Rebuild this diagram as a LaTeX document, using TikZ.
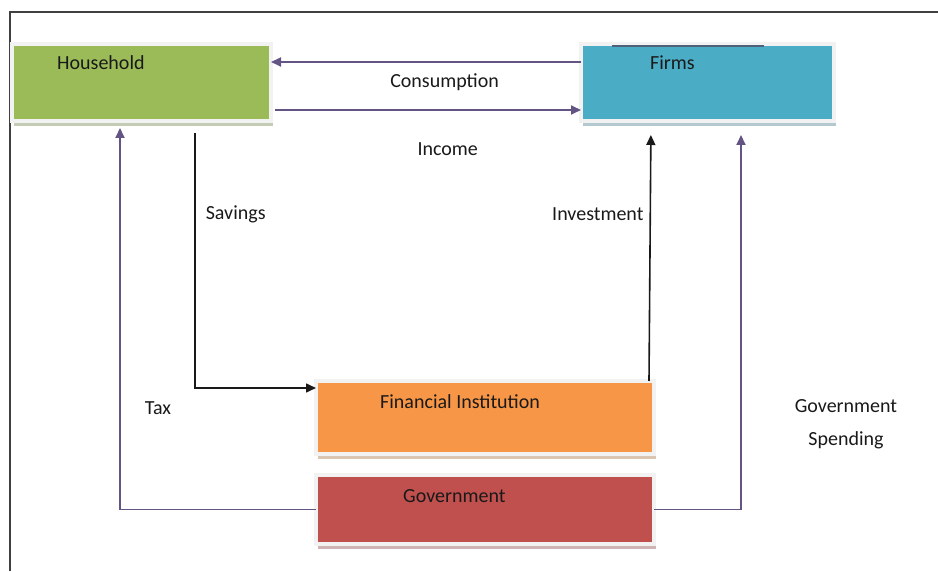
\documentclass[tikz,border=0pt]{standalone}
\usepackage{fontspec}
\setmainfont{Carlito}
\usetikzlibrary{arrows.meta,shadows}

\definecolor{hhgreen}{RGB}{155,187,89}
\definecolor{firmblue}{RGB}{75,172,198}
\definecolor{finorange}{RGB}{247,150,70}
\definecolor{govred}{RGB}{192,80,77}
\definecolor{flowpurple}{RGB}{100,84,132}
\definecolor{boxframe}{RGB}{242,242,242}
\definecolor{slate}{RGB}{80,98,122}

\tikzset{
  block/.style={rectangle, fill=#1, draw=boxframe, line width=4pt,
    inner sep=0pt, outer sep=0pt,
    drop shadow={shadow xshift=2pt, shadow yshift=-5pt, fill=#1!45!gray, opacity=.5}},
  flow/.style={draw=flowpurple, line width=1.8pt, -{Triangle[length=10pt,width=9pt]}},
  money/.style={draw=black!90, line width=1.6pt, -{Triangle[length=10pt,width=9pt]}},
  tag/.style={font=\fontsize{20}{24}\selectfont, text=black!90, inner sep=0pt},
}

\begin{document}
\begin{tikzpicture}[x=1pt, y=1pt]
  \useasboundingbox (0,0) rectangle (938,571);
  % page frame
  \draw[black!75, line width=1.4pt] (10,0) -- (10,559) -- (938,559);

  % sectors
  \node[block=hhgreen, minimum width=259pt, minimum height=77pt,
        label={[tag, anchor=base west, xshift=45pt, yshift=-26pt]north west:Household}]
        (hh) at (141.5,488.5) {};
  \node[block=firmblue, minimum width=253pt, minimum height=77pt,
        label={[tag, anchor=base west, xshift=69pt, yshift=-26pt]north west:Firms}]
        (firms) at (707.5,488.5) {};
  \node[block=finorange, minimum width=338pt, minimum height=73pt,
        label={[tag, anchor=base west, xshift=64pt, yshift=-28pt]north west:Financial Institution}]
        (fin) at (485,153.5) {};
  \node[block=govred, minimum width=338pt, minimum height=69pt,
        label={[tag, anchor=base west, xshift=87pt, yshift=-27pt]north west:Government}]
        (gov) at (485,61.5) {};
  \draw[slate, line width=1.6pt]
    ([xshift=31pt, yshift=-2pt]firms.north west) -- ([xshift=183pt, yshift=-2pt]firms.north west);

  % flows
  \draw[flow] ([yshift=20.5pt]firms.west) -- ([yshift=20.5pt]hh.east)
    node[tag, pos=.44, yshift=-20pt] (consumption) {Consumption};
  \draw[flow, shorten <=4pt] ([yshift=-27.5pt]hh.east) -- ([yshift=-27.5pt]firms.west)
    node[tag, pos=.57, yshift=-39pt] (income) {Income};
  \draw[money] ([xshift=53.5pt, yshift=-12pt]hh.south) |- ([yshift=29.5pt]fin.west)
    node[tag, pos=.16, anchor=west, xshift=10pt] (savings) {Savings};
  \draw[money, shorten >=14pt] ([xshift=164pt]fin.north) -- ([xshift=-56.5pt]firms.south)
    node[tag, pos=.64, anchor=east, xshift=-6pt] (investment) {Investment};
  \draw[flow, shorten >=7pt] (gov.west) -| ([xshift=-21.5pt]hh.south)
    node[tag, pos=.63, anchor=west, xshift=24pt] (tax) {Tax};
  \draw[flow, shorten >=14pt] (gov.east) -| ([xshift=33.5pt]firms.south)
    node[tag, pos=.61, xshift=105pt, align=center] (govspend) {Government\\[9pt]Spending};
\end{tikzpicture}
\end{document}
